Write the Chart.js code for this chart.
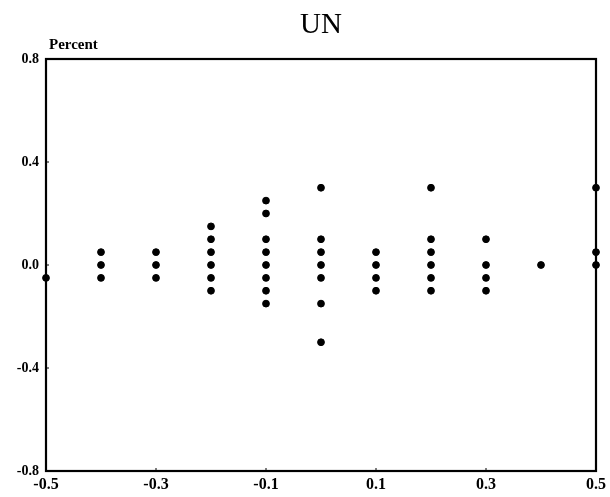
<!DOCTYPE html>
<html>
<head>
<meta charset="utf-8">
<title>UN</title>
<script src="https://cdn.jsdelivr.net/npm/chart.js@4.4.1/dist/chart.umd.min.js"></script>
<style>
  html, body { margin: 0; padding: 0; background: #fff; }
  #chart { display: block; }
</style>
</head>
<body>
<canvas id="chart" width="610" height="497"></canvas>
<script>
// Scatter columns: each x position carries a stack of percent values
const xPositions = [-0.5, -0.4, -0.3, -0.2, -0.1, 0.0, 0.1, 0.2, 0.3, 0.4, 0.5];
const percentAtX = [
    [-0.05],
    [0.05, 0.0, -0.05],
    [0.05, 0.0, -0.05],
    [0.15, 0.1, 0.05, 0.0, -0.05, -0.1],
    [0.25, 0.2, 0.1, 0.05, 0.0, -0.05, -0.1, -0.15],
    [0.3, 0.1, 0.05, 0.0, -0.05, -0.15, -0.3],
    [0.05, 0.0, -0.05, -0.1],
    [0.3, 0.1, 0.05, 0.0, -0.05, -0.1],
    [0.1, 0.0, -0.05, -0.1],
    [0.0],
    [0.3, 0.05, 0.0]
];
const xTicks = [-0.5, -0.3, -0.1, 0.1, 0.3, 0.5];
const yTicks = [-0.8, -0.4, 0.0, 0.4, 0.8];
const titleText = 'UN';
const yAxisLabel = 'Percent';

const points = [];
xPositions.forEach((x, i) => {
    percentAtX[i].forEach(y => points.push({ x: x, y: y }));
});

const serif = '"Liberation Serif", "DejaVu Serif", serif';

// Box around the plot, small inward ticks, title and the axis caption
const framePlugin = {
    id: 'frame',
    beforeDatasetsDraw(chart) {
        const { ctx, chartArea: a, scales } = chart;
        ctx.save();
        ctx.strokeStyle = '#000';
        ctx.lineWidth = 2.2;
        ctx.strokeRect(a.left, a.top, a.right - a.left, a.bottom - a.top);

        ctx.lineWidth = 1;
        xTicks.forEach(v => {
            const px = scales.x.getPixelForValue(v);
            ctx.beginPath();
            ctx.moveTo(px, a.bottom);
            ctx.lineTo(px, a.bottom - 3);
            ctx.stroke();
        });
        yTicks.forEach(v => {
            const py = scales.y.getPixelForValue(v);
            ctx.beginPath();
            ctx.moveTo(a.left, py);
            ctx.lineTo(a.left + 3, py);
            ctx.stroke();
        });
        ctx.restore();
    },
    afterDraw(chart) {
        const { ctx, chartArea: a } = chart;
        ctx.save();
        ctx.fillStyle = '#000';
        ctx.textBaseline = 'alphabetic';

        ctx.font = '29px ' + serif;
        ctx.textAlign = 'center';
        ctx.fillText(titleText, (a.left + a.right) / 2, 33);

        ctx.font = 'bold 15px ' + serif;
        ctx.textAlign = 'left';
        ctx.fillText(yAxisLabel, a.left + 3, a.top - 10);
        ctx.restore();
    }
};

const ctx = document.getElementById('chart');
new Chart(ctx, {
    type: 'scatter',
    data: {
        datasets: [{
            label: 'Percent',
            data: points,
            backgroundColor: '#000',
            borderColor: '#000',
            pointRadius: 3.4,
            pointHoverRadius: 3.4,
            clip: false
        }]
    },
    options: {
        responsive: false,
        animation: false,
        layout: {
            padding: { top: 59, right: 11, left: 0, bottom: 0 }
        },
        plugins: {
            legend: { display: false },
            tooltip: { enabled: false }
        },
        scales: {
            x: {
                type: 'linear',
                min: -0.5,
                max: 0.5,
                grid: { display: false, drawTicks: false, tickLength: 0 },
                border: { display: false },
                afterFit(scale) { scale.height = 26; },
                ticks: {
                    stepSize: 0.2,
                    padding: 4,
                    color: '#000',
                    maxRotation: 0,
                    font: { family: serif, size: 16, weight: 'bold' },
                    callback: v => v.toFixed(1)
                },
                afterBuildTicks(scale) {
                    scale.ticks = xTicks.map(v => ({ value: v }));
                }
            },
            y: {
                type: 'linear',
                min: -0.8,
                max: 0.8,
                grid: { display: false, drawTicks: false, tickLength: 0 },
                border: { display: false },
                afterFit(scale) { scale.width = 46; },
                ticks: {
                    stepSize: 0.4,
                    padding: 7,
                    color: '#000',
                    font: { family: serif, size: 14, weight: 'bold' },
                    callback: v => v.toFixed(1)
                },
                afterBuildTicks(scale) {
                    scale.ticks = yTicks.map(v => ({ value: v }));
                }
            }
        }
    },
    plugins: [framePlugin]
});
</script>
</body>
</html>
